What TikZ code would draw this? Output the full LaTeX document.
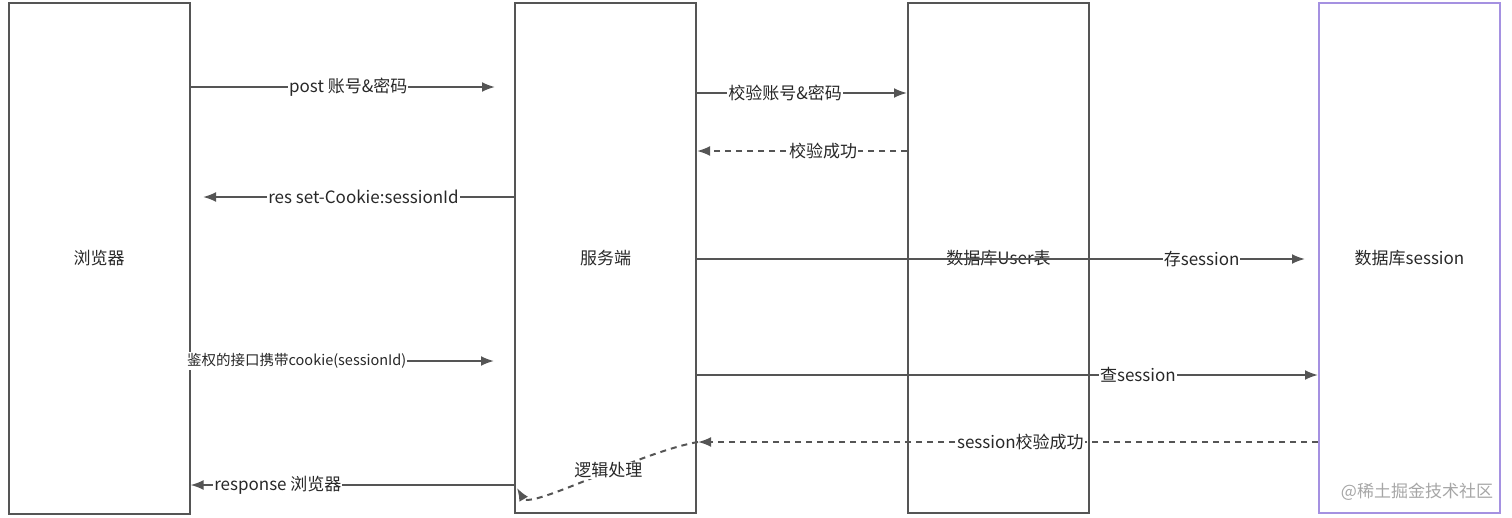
\documentclass[tikz,border=0pt]{standalone}
\usepackage{fontspec}
\setmainfont{Noto Sans CJK SC}
\usetikzlibrary{arrows.meta}
\definecolor{linegray}{RGB}{85,85,85}
\definecolor{txtgray}{RGB}{40,40,40}
\definecolor{purp}{RGB}{165,145,225}
\begin{document}
\begin{tikzpicture}[x=1pt,y=-1pt,
  box/.style={draw=linegray,line width=2pt,minimum width=181pt,minimum height=510pt,inner sep=0pt,text=txtgray,font=\fontsize{17}{20}\selectfont},
  arr/.style={draw=linegray,line width=2pt,-{Latex[length=13pt,width=10pt]}},
  dsh/.style={arr,dash pattern=on 6pt off 5pt},
  lbl/.style={fill=white,inner sep=1pt,text=txtgray,font=\fontsize{17}{20}\selectfont},
  slbl/.style={lbl,font=\fontsize{14.5}{17}\selectfont}]
\useasboundingbox (0,0) rectangle (1512,517);
\node[box,minimum height=511pt] (browser) at (99,258.5) {浏览器};
\node[box] (server) at (605.5,258) {服务端};
\node[box] (dbuser) at (998.5,258) {数据库User表};
\node[box,draw=purp] (dbsess) at (1409.5,258) {数据库session};
% free ends
\coordinate (e1) at (495,87);
\coordinate (e2) at (203,197);
\coordinate (e3) at (494,361);
\coordinate (e7) at (1305,259);
\coordinate (e9) at (698,442);
\coordinate (e10) at (517,488);
% connectors
\draw[arr] (browser.east |- e1) -- node[lbl,pos=0.518] {post 账号\&密码} (e1);
\draw[arr] (server.west |- e2) -- node[lbl,pos=0.484] {res set-Cookie:sessionId} (e2);
\draw[arr] (browser.east |- e3) -- node[slbl,pos=0.35] {鉴权的接口携带cookie(sessionId)} (e3);
\draw[arr] (server.west |- 0,485) -- node[lbl,pos=0.73] {response 浏览器} (browser.east |- 0,485);
\draw[arr] (server.east |- 0,93) -- node[lbl,pos=0.42] {校验账号\&密码} (dbuser.west |- 0,93);
\draw[dsh] (dbuser.west |- 0,151) -- node[lbl,pos=0.4] {校验成功} (server.east |- 0,151);
\draw[arr] (server.east |- e7) -- node[lbl,pos=0.83] {存session} (e7);
\draw[arr] (server.east |- 0,375) -- node[lbl,pos=0.71] {查session} (dbsess.west |- 0,375);
\draw[dsh] (dbsess.west |- e9) -- node[lbl,pos=0.48] {session校验成功} (e9);
\draw[dsh] (e9) .. controls (640,452) and (530,510) .. node[lbl,pos=0.42] {逻辑处理} (e10);
\node[text=black!35,font=\fontsize{17}{20}\selectfont] (wm) at (1417,492) {@稀土掘金技术社区};
\end{tikzpicture}
\end{document}
